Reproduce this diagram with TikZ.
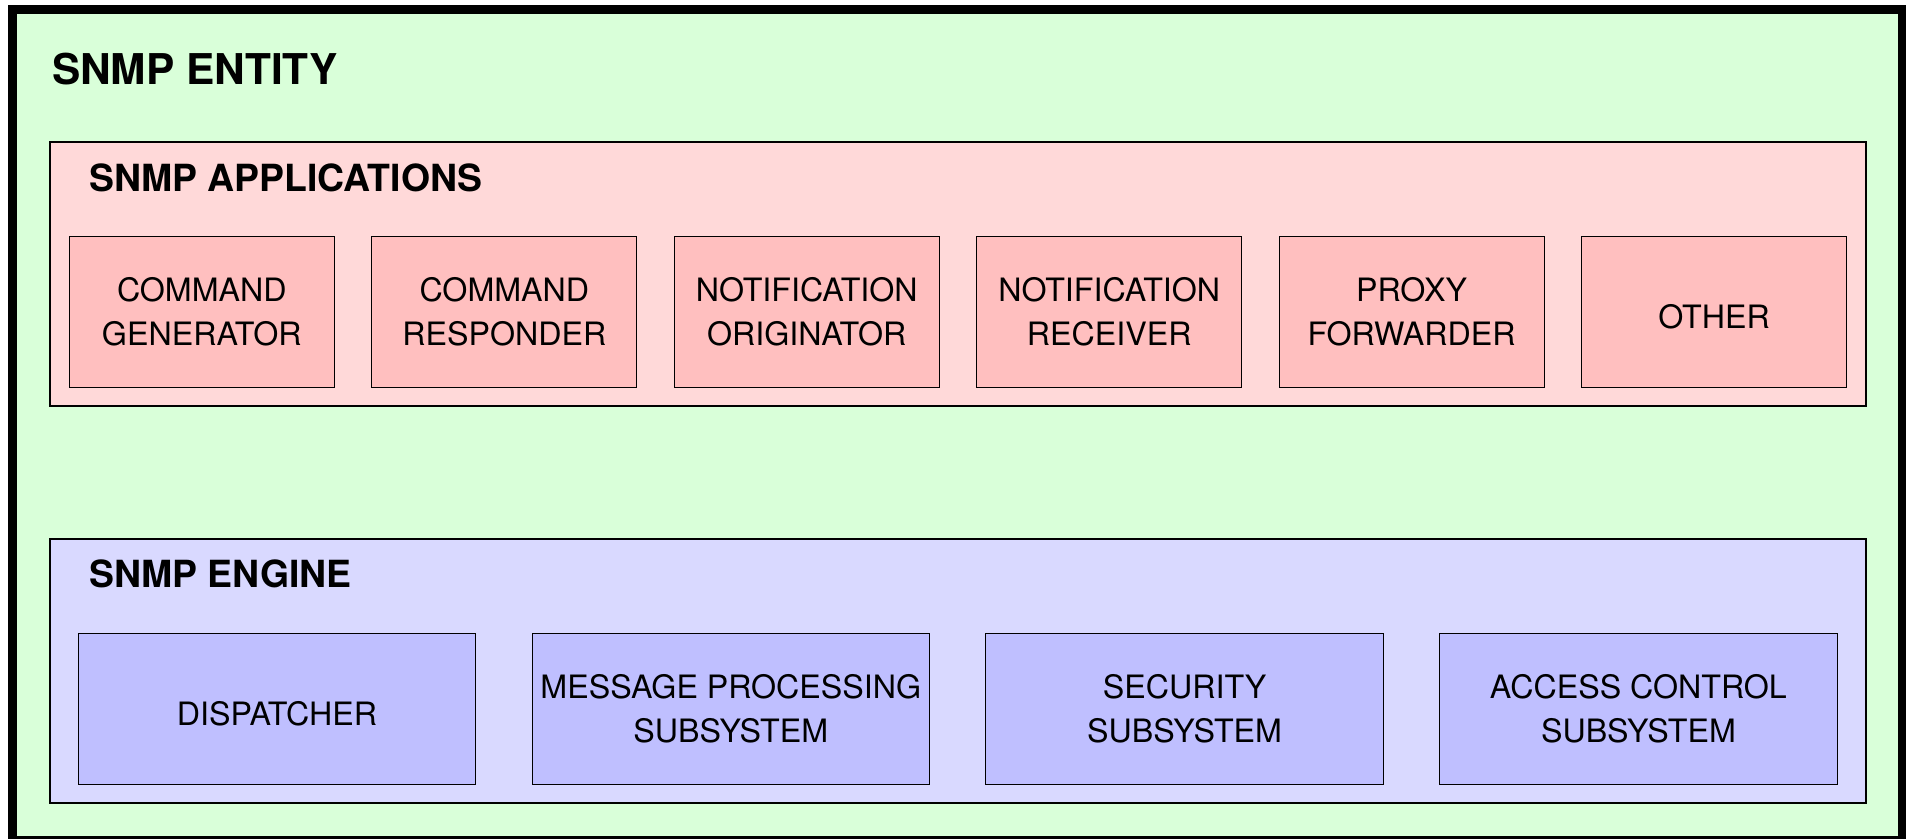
\documentclass[tikz,border=0pt]{standalone}
\usepackage{fontspec}
\setmainfont{TeX Gyre Heros}
\usepackage{xcolor}
\usepackage{tikz}

\definecolor{entitygreen}{RGB}{217,255,217}
\definecolor{apppink}{RGB}{255,217,217}
\definecolor{appbox}{RGB}{255,191,191}
\definecolor{engblue}{RGB}{217,217,255}
\definecolor{engbox}{RGB}{191,191,255}

\begin{document}
\begin{tikzpicture}[x=0.5pt, y=-0.5pt,
    title/.style={anchor=base west, inner sep=0pt, font=\bfseries\fontsize{21.2}{24}\selectfont},
    subtitle/.style={anchor=base west, inner sep=0pt, font=\bfseries\fontsize{18.7}{22}\selectfont},
    unit/.style={draw, line width=0.5pt, inner sep=0pt, align=center,
        minimum width=132.5pt, minimum height=75.5pt,
        execute at begin node={\rule{0pt}{14.8pt}},
        font=\fontsize{16.1}{21.8}\selectfont},
    oneline/.style={execute at begin node={\rule{0pt}{16.6pt}}},
    appunit/.style={unit, fill=appbox},
    engunit/.style={unit, fill=engbox, minimum width=198.7pt}]
    \useasboundingbox (0,0) rectangle (1906,839);

    % the entity frame
    \draw[line width=4.5pt, fill=entitygreen] (12.5,9.5) rectangle (1902.5,840.5);
    \node[title] (entity) at (51.7,85) {SNMP ENTITY};

    % applications
    \draw[line width=1pt, fill=apppink] (50,142) coordinate (appNW) rectangle (1866,406) coordinate (appSE);
    \node[subtitle] (apps) at (89,191.5) {SNMP APPLICATIONS};
    \node[appunit] (cmdgen)  at (201.8,311.7)  {COMMAND\\GENERATOR};
    \node[appunit] (cmdresp) at (504.3,311.7)  {COMMAND\\RESPONDER};
    \node[appunit] (notorig) at (806.7,311.7)  {NOTIFICATION\\ORIGINATOR};
    \node[appunit] (notrecv) at (1109.2,311.7) {NOTIFICATION\\RECEIVER};
    \node[appunit] (proxy)   at (1411.6,311.7) {PROXY\\FORWARDER};
    \node[appunit, oneline] (other) at (1714.1,311.7) {OTHER};

    % engine
    \draw[line width=1pt, fill=engblue] (50,539) coordinate (engNW) rectangle (1866,803) coordinate (engSE);
    \node[subtitle] (engine) at (89,587.5) {SNMP ENGINE};
    \node[engunit, oneline] (disp) at (277,708.8) {DISPATCHER};
    \node[engunit] (msgproc) at (730.8,708.8)  {MESSAGE PROCESSING\\SUBSYSTEM};
    \node[engunit] (secsub) at (1184.6,708.8) {SECURITY\\SUBSYSTEM};
    \node[engunit] (acsub) at (1638.4,708.8) {ACCESS CONTROL\\SUBSYSTEM};
\end{tikzpicture}
\end{document}
